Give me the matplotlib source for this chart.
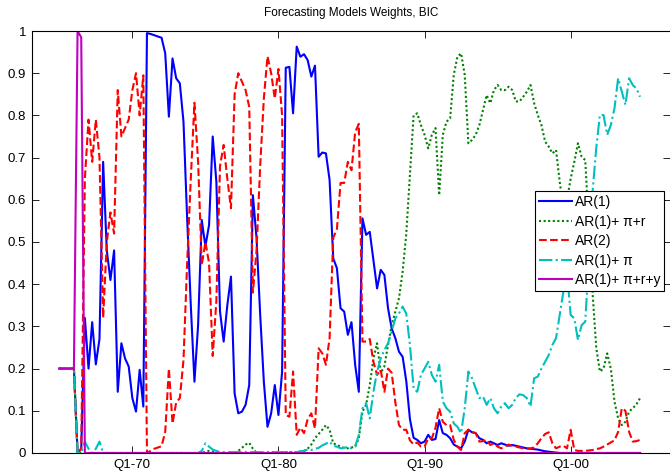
import numpy as np
import matplotlib
matplotlib.use("Agg")
import matplotlib.pyplot as plt

plt.rcParams['font.family'] = ['Liberation Sans', 'DejaVu Sans']

# quarterly dates, Q1-1965 .. Q4-2004
quarters = np.arange(1965, 2005, 0.25)

tick_pos = [1970, 1980, 1990, 2000]
tick_labels = ["Q1-70", "Q1-80", "Q1-90", "Q1-00"]

# AR(1)
ar1 = [0.2, 0.2, 0.2, 0.2, 0.2, 0.0, 0.01, 0.32, 0.20, 0.31,
       0.21, 0.27, 0.69, 0.48, 0.41, 0.48, 0.145, 0.26, 0.224, 0.205,
       0.13, 0.098, 0.197, 0.11, 0.995, 0.993, 0.99, 0.987, 0.984, 0.947,
       0.797, 0.935, 0.888, 0.876, 0.785, 0.556, 0.35, 0.169, 0.303, 0.552,
       0.49, 0.54, 0.75, 0.643, 0.335, 0.264, 0.35, 0.418, 0.141, 0.094,
       0.098, 0.114, 0.161, 0.611, 0.509, 0.327, 0.169, 0.062, 0.094, 0.161,
       0.09, 0.193, 0.913, 0.915, 0.805, 0.963, 0.939, 0.945, 0.931, 0.892,
       0.918, 0.702, 0.712, 0.71, 0.647, 0.461, 0.438, 0.343, 0.335, 0.28,
       0.31, 0.209, 0.145, 0.556, 0.517, 0.524, 0.457, 0.39, 0.434, 0.422,
       0.343, 0.295, 0.272, 0.24, 0.228, 0.17, 0.08, 0.036, 0.031, 0.023,
       0.027, 0.043, 0.031, 0.033, 0.078, 0.047, 0.043, 0.035, 0.02, 0.015,
       0.011, 0.027, 0.055, 0.049, 0.047, 0.035, 0.031, 0.023, 0.027, 0.023,
       0.019, 0.023, 0.02, 0.017, 0.019, 0.017, 0.015, 0.013, 0.011, 0.01,
       0.009, 0.008, 0.006, 0.004, 0.003, 0.002, 0.001, 0.0, 0.0, 0.0,
       0.0, 0.0, 0.0, 0.0, 0.0, 0.0, 0.0, 0.0, 0.0, 0.0,
       0.0, 0.0, 0.0, 0.0, 0.0, 0.0, 0.0, 0.0, 0.0, 0.0]

# AR(1)+ pi+r
ar1_pir = [0.2, 0.2, 0.2, 0.2, 0.2, 0.0, 0.0, 0.0, 0.0, 0.0,
           0.0, 0.0, 0.0, 0.0, 0.0, 0.0, 0.0, 0.0, 0.0, 0.0,
           0.0, 0.0, 0.0, 0.0, 0.0, 0.0, 0.0, 0.0, 0.0, 0.0,
           0.0, 0.0, 0.0, 0.0, 0.0, 0.0, 0.0, 0.0, 0.0, 0.0,
           0.003, 0.005, 0.003, 0.0, 0.0, 0.0, 0.0, 0.0, 0.0, 0.005,
           0.012, 0.02, 0.024, 0.01, 0.0, 0.0, 0.0, 0.0, 0.002, 0.002,
           0.002, 0.002, 0.002, 0.002, 0.002, 0.002, 0.003, 0.005, 0.01, 0.02,
           0.035, 0.045, 0.055, 0.066, 0.055, 0.023, 0.019, 0.015, 0.012, 0.011,
           0.013, 0.015, 0.035, 0.098, 0.114, 0.161, 0.224, 0.26, 0.19, 0.205,
           0.256, 0.303, 0.335, 0.367, 0.43, 0.52, 0.66, 0.80, 0.805, 0.777,
           0.754, 0.722, 0.754, 0.77, 0.611, 0.754, 0.785, 0.793, 0.896, 0.939,
           0.947, 0.896, 0.734, 0.742, 0.754, 0.777, 0.813, 0.848, 0.829, 0.86,
           0.872, 0.86, 0.86, 0.868, 0.86, 0.833, 0.833, 0.844, 0.856, 0.872,
           0.829, 0.801, 0.777, 0.738, 0.726, 0.71, 0.718, 0.643, 0.58, 0.60,
           0.65, 0.69, 0.734, 0.702, 0.694, 0.53, 0.38, 0.25, 0.193, 0.2,
           0.236, 0.2, 0.122, 0.082, 0.066, 0.074, 0.098, 0.106, 0.115, 0.13]

# AR(2)
ar2 = [0.2, 0.2, 0.2, 0.2, 0.2, 0.0, 0.01, 0.65, 0.79, 0.69,
       0.79, 0.70, 0.32, 0.50, 0.57, 0.52, 0.86, 0.75, 0.77, 0.79,
       0.86, 0.90, 0.80, 0.895, 0.0, 0.005, 0.01, 0.013, 0.016, 0.05,
       0.20, 0.07, 0.12, 0.13, 0.22, 0.45, 0.65, 0.83, 0.69, 0.445,
       0.50, 0.45, 0.23, 0.36, 0.68, 0.73, 0.65, 0.58, 0.85, 0.90,
       0.88, 0.86, 0.82, 0.38, 0.48, 0.68, 0.84, 0.94, 0.90, 0.84,
       0.91, 0.80, 0.09, 0.086, 0.193, 0.043, 0.06, 0.047, 0.08, 0.094,
       0.058, 0.248, 0.236, 0.209, 0.272, 0.51, 0.53, 0.64, 0.64, 0.69,
       0.67, 0.76, 0.78, 0.264, 0.264, 0.27, 0.216, 0.185, 0.197, 0.145,
       0.20, 0.19, 0.12, 0.066, 0.055, 0.055, 0.03, 0.02, 0.025, 0.015,
       0.015, 0.035, 0.035, 0.06, 0.106, 0.074, 0.066, 0.066, 0.031, 0.015,
       0.007, 0.047, 0.055, 0.05, 0.047, 0.027, 0.028, 0.031, 0.019, 0.023,
       0.015, 0.011, 0.015, 0.02, 0.017, 0.015, 0.013, 0.011, 0.01, 0.011,
       0.013, 0.023, 0.035, 0.045, 0.049, 0.023, 0.011, 0.015, 0.017, 0.011,
       0.055, 0.007, 0.005, 0.005, 0.005, 0.006, 0.007, 0.009, 0.011, 0.015,
       0.02, 0.025, 0.03, 0.05, 0.106, 0.10, 0.05, 0.027, 0.028, 0.031]

# AR(1)+ pi
ar1_pi = [0.2, 0.2, 0.2, 0.2, 0.2, 0.0, 0.0, 0.027, 0.01, 0.0,
          0.01, 0.027, 0.0, 0.0, 0.0, 0.0, 0.0, 0.0, 0.0, 0.0,
          0.0, 0.0, 0.0, 0.0, 0.0, 0.0, 0.0, 0.0, 0.0, 0.0,
          0.0, 0.0, 0.0, 0.0, 0.0, 0.0, 0.0, 0.0, 0.0, 0.005,
          0.023, 0.015, 0.008, 0.005, 0.002, 0.002, 0.002, 0.002, 0.002, 0.002,
          0.002, 0.002, 0.002, 0.002, 0.002, 0.002, 0.002, 0.002, 0.002, 0.002,
          0.002, 0.002, 0.002, 0.002, 0.002, 0.002, 0.004, 0.005, 0.008, 0.007,
          0.01, 0.012, 0.018, 0.022, 0.027, 0.017, 0.015, 0.011, 0.012, 0.015,
          0.011, 0.015, 0.043, 0.106, 0.118, 0.082, 0.145, 0.193, 0.224, 0.244,
          0.26, 0.288, 0.319, 0.331, 0.347, 0.33, 0.256, 0.153, 0.145, 0.185,
          0.2, 0.216, 0.185, 0.169, 0.209, 0.122, 0.106, 0.098, 0.07, 0.062,
          0.047, 0.106, 0.193, 0.177, 0.153, 0.13, 0.134, 0.114, 0.13, 0.106,
          0.094, 0.11, 0.118, 0.106, 0.114, 0.131, 0.139, 0.137, 0.13, 0.11,
          0.177, 0.181, 0.2, 0.216, 0.232, 0.256, 0.272, 0.327, 0.382, 0.43,
          0.327, 0.319, 0.268, 0.303, 0.311, 0.461, 0.619, 0.722, 0.801, 0.801,
          0.754, 0.777, 0.817, 0.888, 0.856, 0.825, 0.888, 0.872, 0.864, 0.844]

# AR(1)+ pi+r+y
ar1_piry = [0.2, 0.2, 0.2, 0.2, 0.2, 1.0, 0.985] + [0.0] * 153

fig = plt.figure(figsize=(6.7, 4.72), dpi=100)
ax = fig.add_axes([0.0473, 0.0403, 0.9527, 0.894])

ax.plot(quarters, ar1, color="#0000ff", lw=1.5, label="AR(1)")
ax.plot(quarters, ar1_pir, color="#008000", lw=1.5, linestyle=(0, (1, 1.2)),
        label="AR(1)+ \u03c0+r")
ax.plot(quarters, ar2, color="#ff0000", lw=1.5, linestyle="--", label="AR(2)")
ax.plot(quarters, ar1_pi, color="#00bfbf", lw=1.5, linestyle="-.",
        label="AR(1)+ \u03c0")
ax.plot(quarters, ar1_piry, color="#bf00bf", lw=1.5, label="AR(1)+ \u03c0+r+y")

ax.set_xlim(1963.11, 2006.80)
ax.set_ylim(0, 1)
ax.set_xticks(tick_pos)
ax.set_xticklabels(tick_labels, fontsize=9.5)
ax.set_yticks(np.arange(0, 1.01, 0.1))
ax.set_yticklabels(["0", "0.1", "0.2", "0.3", "0.4", "0.5", "0.6", "0.7",
                    "0.8", "0.9", "1"], fontsize=9.5)
ax.tick_params(direction="in", length=5, top=True, right=True, width=0.6,
               pad=4)
ax.spines["right"].set_visible(False)
for s in ["left", "top", "bottom"]:
    ax.spines[s].set_linewidth(0.8)

ax.set_title("Forecasting Models Weights, BIC", fontsize=8.5, pad=11)

leg = ax.legend(loc="upper left", bbox_to_anchor=(0.7885, 0.621), fontsize=10,
                fancybox=False, framealpha=1, edgecolor="black",
                handlelength=2.4, handletextpad=0.15, labelspacing=0.4,
                borderpad=0.3, borderaxespad=0)
leg.get_frame().set_linewidth(0.8)

plt.savefig("out.png", dpi=100)
